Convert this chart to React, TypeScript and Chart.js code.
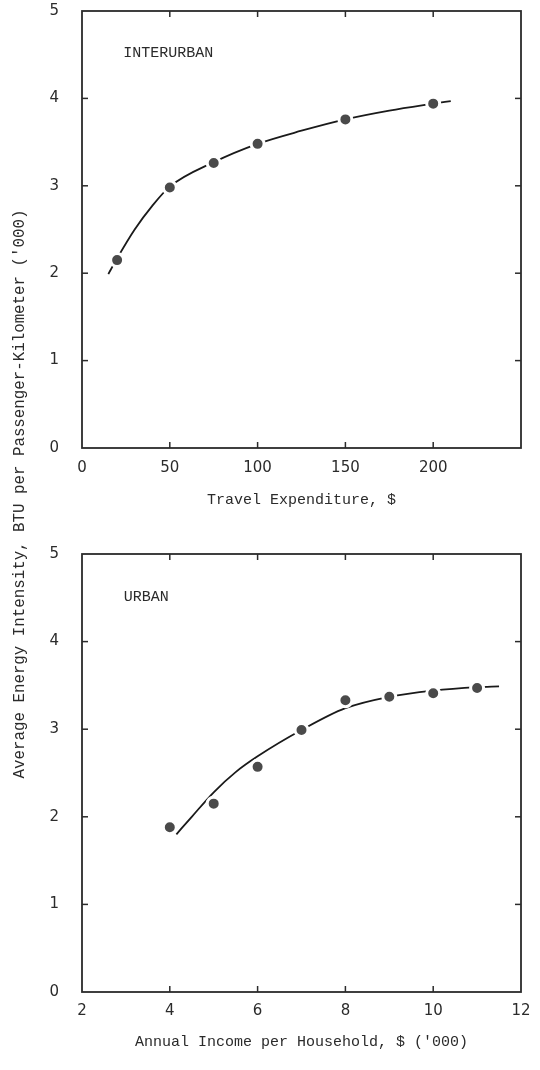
import React, { useEffect, useRef } from 'react';
import { Chart, registerables } from 'chart.js';

Chart.register(...registerables);

// ---- Data ----
const interExpenditure = [20, 50, 75, 100, 150, 200];
const interIntensity = [2.15, 2.98, 3.26, 3.48, 3.76, 3.94];
const interCurveX = [15, 20, 30, 40, 50, 75, 100, 125, 150, 175, 200, 210];
const interCurveY = [1.99, 2.17, 2.5, 2.77, 2.99, 3.27, 3.48, 3.63, 3.76, 3.86, 3.94, 3.97];

const urbanIncome = [4, 5, 6, 7, 8, 9, 10, 11];
const urbanIntensity = [1.88, 2.15, 2.57, 2.99, 3.33, 3.37, 3.41, 3.47];
const urbanCurveX = [4.15, 4.5, 5, 5.5, 6, 7, 8, 9, 10, 11, 11.5];
const urbanCurveY = [1.8, 2.0, 2.28, 2.51, 2.69, 2.99, 3.24, 3.37, 3.44, 3.48, 3.49];

const yTicks = [0, 1, 2, 3, 4, 5];
const interXTicks = [0, 50, 100, 150, 200, 250];
const interXHidden = [250];
const urbanXTicks = [2, 4, 6, 8, 10, 12];

const interLabel = 'INTERURBAN';
const urbanLabel = 'URBAN';
const interXTitle = 'Travel Expenditure, $';
const urbanXTitle = "Annual Income per Household, $ ('000)";
const yTitle = "Average Energy Intensity, BTU per Passenger-Kilometer ('000)";

const INK = '#2b2b2b';
const MONO = '"Liberation Mono", "DejaVu Sans Mono", monospace';
const SANS = '"DejaVu Sans", sans-serif';

const framePlugin = {
  id: 'frame',
  afterDraw(chart: any, _args: any, opts: any) {
    const { ctx, chartArea: a, scales } = chart;
    const x = scales.x;
    const y = scales.y;
    ctx.save();
    ctx.strokeStyle = INK;
    ctx.lineWidth = 1.8;
    ctx.strokeRect(a.left, a.top, a.right - a.left, a.bottom - a.top);
    const len = 6;
    ctx.lineWidth = 1.5;
    const seg = (x1: number, y1: number, x2: number, y2: number) => {
      ctx.beginPath();
      ctx.moveTo(x1, y1);
      ctx.lineTo(x2, y2);
      ctx.stroke();
    };
    x.ticks.forEach((t: any) => {
      const px = x.getPixelForValue(t.value);
      if (px <= a.left + 2 || px >= a.right - 2) return;
      seg(px, a.bottom, px, a.bottom - len);
      seg(px, a.top, px, a.top + len);
    });
    y.ticks.forEach((t: any) => {
      const py = y.getPixelForValue(t.value);
      if (py <= a.top + 2 || py >= a.bottom - 2) return;
      seg(a.left, py, a.left + len, py);
      seg(a.right, py, a.right - len, py);
    });
    ctx.fillStyle = INK;
    ctx.font = `15px ${MONO}`;
    ctx.textAlign = 'left';
    ctx.textBaseline = 'middle';
    ctx.fillText(opts.label, x.getPixelForValue(opts.lx), y.getPixelForValue(opts.ly));
    ctx.restore();
  },
};

function makeConfig(p: {
  px: number[]; py: number[]; cx: number[]; cy: number[];
  xMin: number; xMax: number; xTicks: number[]; xHidden: number[];
  xTitle: string; label: string; lx: number; ly: number;
  padTop: number; xAxisH: number; tickPad: number; titlePad: number;
}) {
  return {
    type: 'scatter' as const,
    data: {
      datasets: [
        {
          label: 'observed',
          data: p.px.map((v, i) => ({ x: v, y: p.py[i] })),
          pointRadius: 6.5,
          pointBackgroundColor: '#4a4a4a',
          pointBorderColor: '#ffffff',
          pointBorderWidth: 3,
          showLine: false,
        },
        {
          label: 'fitted',
          data: p.cx.map((v, i) => ({ x: v, y: p.cy[i] })),
          showLine: true,
          borderColor: '#1a1a1a',
          borderWidth: 1.8,
          pointRadius: 0,
          cubicInterpolationMode: 'monotone',
          tension: 0.4,
        },
      ],
    },
    options: {
      responsive: false,
      animation: false,
      devicePixelRatio: 1,
      layout: { padding: { top: p.padTop, right: 19, left: 0, bottom: 0 } },
      plugins: {
        legend: { display: false },
        tooltip: { enabled: false },
        frame: { label: p.label, lx: p.lx, ly: p.ly },
      },
      scales: {
        x: {
          type: 'linear',
          min: p.xMin,
          max: p.xMax,
          afterBuildTicks: (s: any) => { s.ticks = p.xTicks.map((v) => ({ value: v })); },
          afterFit: (s: any) => {
            s.height = p.xAxisH;
            s.paddingLeft = 0;
            s.paddingRight = 0;
            s.paddingTop = 0;
            s.paddingBottom = 0;
          },
          grid: { display: false, drawTicks: false },
          border: { display: false },
          ticks: {
            padding: p.tickPad,
            color: INK,
            font: { family: SANS, size: 15 },
            maxRotation: 0,
            autoSkip: false,
            callback: (v: any) => (p.xHidden.includes(v) ? '' : String(v)),
          },
          title: {
            display: true,
            text: p.xTitle,
            color: INK,
            font: { family: MONO, size: 15 },
            padding: { top: 0, bottom: p.titlePad },
          },
        },
        y: {
          type: 'linear',
          min: 0,
          max: 5,
          afterBuildTicks: (s: any) => { s.ticks = yTicks.map((v) => ({ value: v })); },
          afterFit: (s: any) => {
            s.width = 82;
            s.paddingTop = 0;
            s.paddingBottom = 0;
            s.paddingLeft = 0;
            s.paddingRight = 0;
          },
          grid: { display: false, drawTicks: false },
          border: { display: false },
          ticks: {
            padding: 23,
            color: INK,
            font: { family: SANS, size: 15 },
          },
        },
      },
    },
    plugins: [framePlugin],
  };
}

function Panel(props: { cfg: any; width: number; height: number; top: number }) {
  const ref = useRef<HTMLCanvasElement | null>(null);
  useEffect(() => {
    if (!ref.current) return;
    const chart = new Chart(ref.current, props.cfg);
    return () => chart.destroy();
  }, []);
  return (
    <canvas
      ref={ref}
      width={props.width}
      height={props.height}
      style={{ position: 'absolute', left: 0, top: props.top, width: props.width, height: props.height }}
    />
  );
}

export default function App() {
  const topCfg = makeConfig({
    px: interExpenditure, py: interIntensity, cx: interCurveX, cy: interCurveY,
    xMin: 0, xMax: 250, xTicks: interXTicks, xHidden: interXHidden,
    xTitle: interXTitle, label: interLabel, lx: 23.5, ly: 4.52,
    padTop: 11, xAxisH: 82, tickPad: 11, titlePad: 21,
  });
  const botCfg = makeConfig({
    px: urbanIncome, py: urbanIntensity, cx: urbanCurveX, cy: urbanCurveY,
    xMin: 2, xMax: 12, xTicks: urbanXTicks, xHidden: [],
    xTitle: urbanXTitle, label: urbanLabel, lx: 2.95, ly: 4.51,
    padTop: 24, xAxisH: 78, tickPad: 10, titlePad: 19,
  });
  return (
    <div style={{ position: 'absolute', left: 0, top: 0, width: 540, height: 1070, background: '#fff', overflow: 'hidden' }}>
      <Panel cfg={topCfg} width={540} height={530} top={0} />
      <Panel cfg={botCfg} width={540} height={540} top={530} />
      <div
        style={{
          position: 'absolute',
          left: 20 - 320,
          top: 494 - 10,
          width: 640,
          height: 20,
          lineHeight: '20px',
          textAlign: 'center',
          transform: 'rotate(-90deg)',
          fontFamily: MONO,
          fontSize: '15.8px',
          color: INK,
          whiteSpace: 'nowrap',
        }}
      >
        {yTitle}
      </div>
    </div>
  );
}
